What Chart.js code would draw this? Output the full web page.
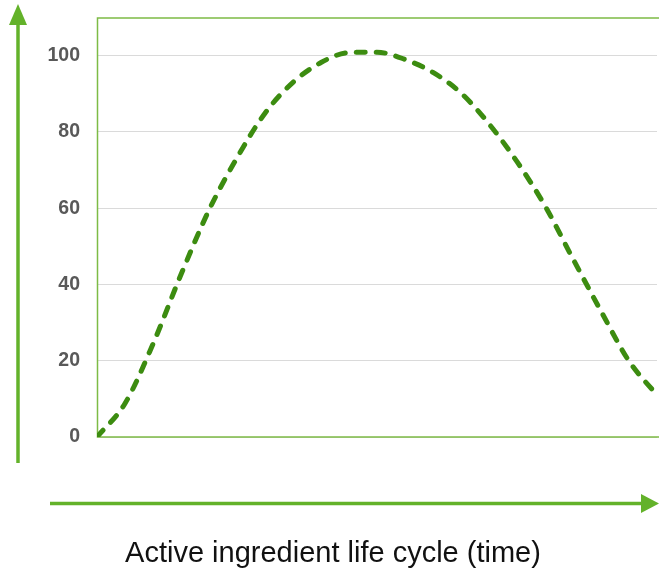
<!DOCTYPE html>
<html>
<head>
<meta charset="utf-8">
<script src="https://cdn.jsdelivr.net/npm/chart.js@4.4.1/dist/chart.umd.min.js"></script>
<style>
  html, body { margin: 0; padding: 0; background: #fff; }
  #wrap { width: 659px; height: 573px; position: relative; }
</style>
</head>
<body>
<div id="wrap"><canvas id="c"></canvas></div>
<script>
// data
const timeSteps = [0,1,2,3,4,5,6,7,8,9,10,11,12,13,14,15,16,17,18,19,20];
const lifeCycle = [0, 8.8, 24.4, 42.6, 59.5, 73.2, 84.9, 93.0, 98.2, 100.8, 100.9, 99.0, 95.6, 90.2, 82.1, 72.2, 60.6, 46.7, 33.0, 19.9, 11.0];
const yTicks = [0, 20, 40, 60, 80, 100];
const xTitle = 'Active ingredient life cycle (time)';

const frameGreen = '#7dbb45';
const arrowGreen = '#63b22a';

// green frame on top, left and bottom of the plot
const framePlugin = {
  id: 'frame',
  beforeDatasetsDraw(chart){
    const {ctx, chartArea: a} = chart;
    ctx.save();
    ctx.strokeStyle = frameGreen;
    ctx.lineWidth = 1.5;
    ctx.beginPath();
    ctx.moveTo(chart.width, a.top + 0.5);
    ctx.lineTo(a.left + 0.5, a.top + 0.5);
    ctx.lineTo(a.left + 0.5, a.bottom);
    ctx.lineTo(chart.width, a.bottom);
    ctx.stroke();
    ctx.restore();
  }
};

// the two arrows outside the plot, and the time caption under them
const arrowPlugin = {
  id: 'arrows',
  afterDraw(chart){
    const ctx = chart.ctx;
    ctx.save();
    ctx.strokeStyle = arrowGreen;
    ctx.fillStyle = arrowGreen;
    ctx.lineWidth = 3.5;
    // vertical
    ctx.beginPath(); ctx.moveTo(18, 463); ctx.lineTo(18, 22); ctx.stroke();
    ctx.beginPath(); ctx.moveTo(18, 4); ctx.lineTo(27, 25); ctx.lineTo(9, 25); ctx.closePath(); ctx.fill();
    // horizontal
    ctx.beginPath(); ctx.moveTo(50, 503.5); ctx.lineTo(645, 503.5); ctx.stroke();
    ctx.beginPath(); ctx.moveTo(659, 503.5); ctx.lineTo(641, 494); ctx.lineTo(641, 513); ctx.closePath(); ctx.fill();
    // caption
    ctx.fillStyle = '#111';
    ctx.font = '29px "Liberation Sans", Arial, sans-serif';
    ctx.textAlign = 'center';
    ctx.textBaseline = 'alphabetic';
    ctx.fillText(xTitle, 333, 562);
    ctx.restore();
  }
};

new Chart(document.getElementById('c'), {
  type: 'line',
  data: {
    datasets: [{
      data: timeSteps.map((t, i) => ({x: t, y: lifeCycle[i]})),
      borderColor: '#3c8c10',
      borderWidth: 5,
      borderDash: [9, 11],
      borderCapStyle: 'round',
      pointRadius: 0,
      cubicInterpolationMode: 'monotone',
      fill: false
    }]
  },
  options: {
    responsive: true,
    maintainAspectRatio: false,
    animation: false,
    layout: { padding: { top: 17.5, right: 2, left: 0, bottom: 0 } },
    plugins: { legend: { display: false }, tooltip: { enabled: false } },
    scales: {
      x: {
        type: 'linear',
        min: 0,
        max: 20,
        grid: { display: false },
        border: { display: false },
        ticks: { display: false },
        afterFit(scale){
          scale.height = 136;
          scale.paddingLeft = 0; scale.paddingRight = 0;
        }
      },
      y: {
        min: 0,
        max: 110,
        afterBuildTicks(scale){ scale.ticks = yTicks.map(v => ({value: v})); },
        afterFit(scale){
          scale.width = 97;
          scale.paddingTop = 0; scale.paddingBottom = 0;
        },
        grid: { color: '#dadada', lineWidth: 1, drawTicks: false },
        border: { display: false },
        ticks: {
          padding: 17,
          color: '#595959',
          font: { family: 'Liberation Sans, Arial, sans-serif', size: 19.5, weight: 'bold' }
        }
      }
    }
  },
  plugins: [framePlugin, arrowPlugin]
});
</script>
</body>
</html>
